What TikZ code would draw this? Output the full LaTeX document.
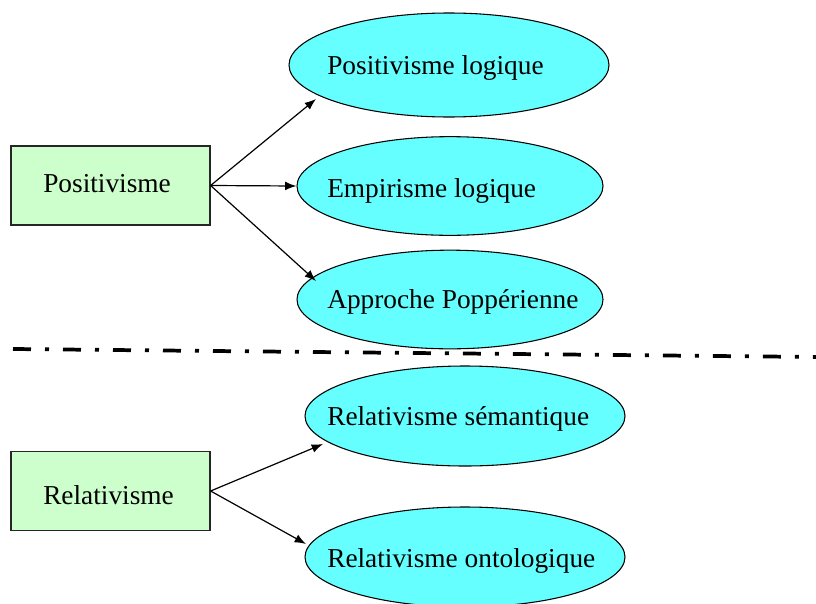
\documentclass[tikz,border=0pt]{standalone}
\usepackage{fontspec}
\setmainfont{Liberation Serif}
\usetikzlibrary{shapes.geometric,arrows.meta}
\definecolor{conceptfill}{HTML}{66FFFF}
\definecolor{schoolfill}{HTML}{CCFFCC}
\begin{document}
\begin{tikzpicture}[x=0.75pt,y=-0.75pt,
  school/.style={rectangle,draw=black!85,line width=0.9pt,fill=schoolfill,
    minimum width=149.25pt,minimum height=59.25pt,inner sep=0pt},
  concept/.style={ellipse,draw=black,line width=0.8pt,fill=conceptfill,inner sep=0pt},
  lbl/.style={anchor=base west,inner sep=0pt,font=\fontsize{20.5}{24}\selectfont},
  conn/.style={line width=0.9pt,-{Latex[length=8.5pt,width=6.5pt]}},
  divider/.style={line width=2.8pt,dash pattern=on 13.5pt off 10.5pt on 3pt off 10.5pt}]
\useasboundingbox (0,0) rectangle (816,603);
\clip (0,0) rectangle (816,603);

% upper group: positivism
\node[school] (pos) at (110.5,185.5) {};
\node[lbl] (posl) at (43,192) {Positivisme};
\node[concept,minimum width=240pt,minimum height=78pt] (e1) at (449,65) {};
\node[lbl] (e1l) at (327,74) {Positivisme logique};
\node[concept,minimum width=229.5pt,minimum height=74pt] (e2) at (450,186) {};
\node[lbl] (e2l) at (327,197) {Empirisme logique};
\node[concept,minimum width=229.5pt,minimum height=74pt] (e3) at (450,299.5) {};
\node[lbl] (e3l) at (327,308) {Approche Poppérienne};

\coordinate (t1) at (316,99);
\coordinate (t3) at (316,281);
\draw[conn] (pos.east) -- (t1);
\draw[conn] (pos.east) -- (e2.west);
\draw[conn] (pos.east) -- (t3);

% separator
\coordinate (sl) at (13,349);
\coordinate (sr) at (816,357);
\draw[divider] (sl) -- (sr);

% lower group: relativism
\node[school] (rel) at (110.5,491) {};
\node[lbl] (rell) at (43,504) {Relativisme};
\node[concept,minimum width=240pt,minimum height=75pt] (e4) at (465,416) {};
\node[lbl] (e4l) at (327,425) {Relativisme sémantique};
\node[concept,minimum width=240pt,minimum height=75pt] (e5) at (465,557) {};
\node[lbl] (e5l) at (327,567) {Relativisme ontologique};

\coordinate (t4) at (323,444);
\coordinate (t5) at (306,544);
\draw[conn] (rel.east) -- (t4);
\draw[conn] (rel.east) -- (t5);
\end{tikzpicture}
\end{document}
